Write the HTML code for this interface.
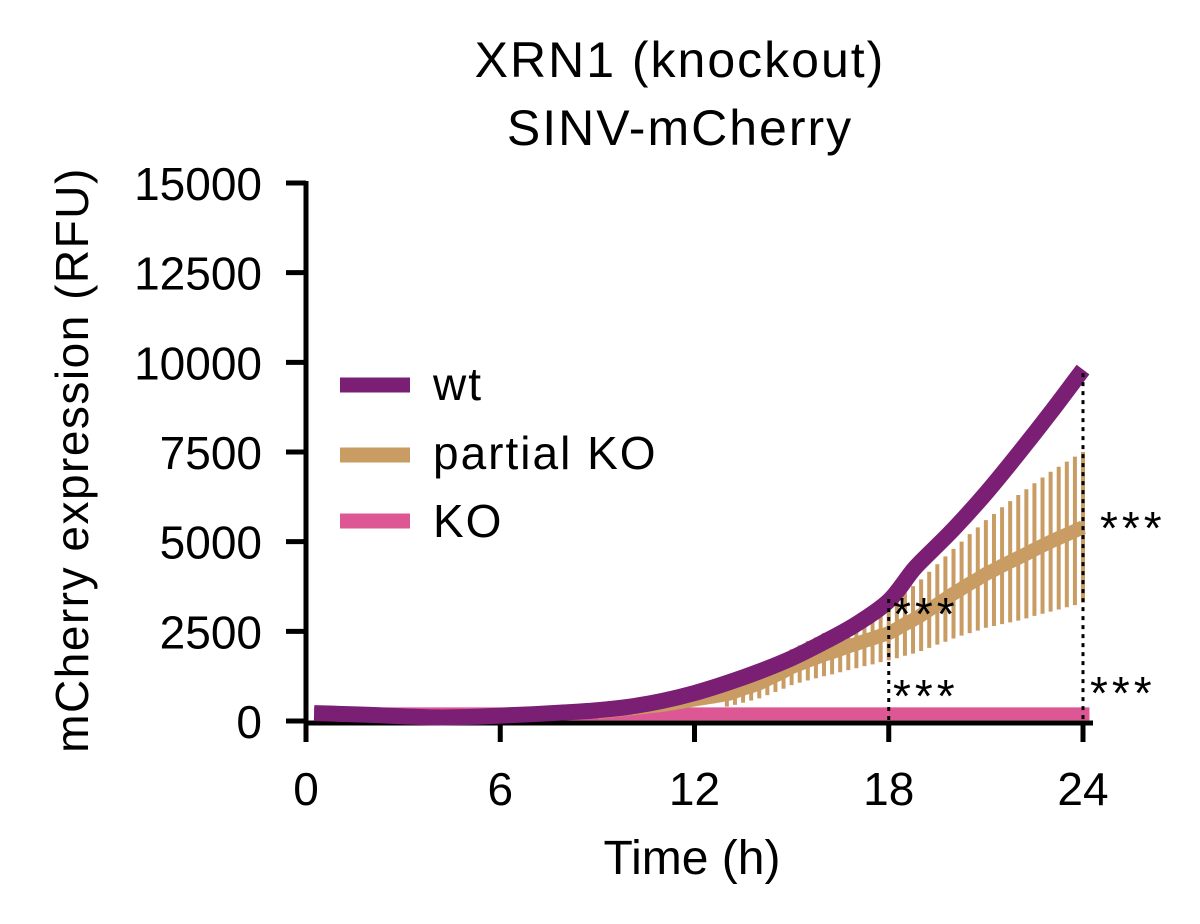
<!DOCTYPE html>
<html><head><meta charset="utf-8"><style>
body{margin:0;background:#fff}
svg text{font-family:"Liberation Sans",sans-serif;fill:#000}
</style></head><body>
<svg width="1200" height="919" viewBox="0 0 1200 919" xmlns="http://www.w3.org/2000/svg" id="chart">
<g>
<text x="680" y="77" font-size="50" letter-spacing="2" text-anchor="middle">XRN1 (knockout)</text>
<text x="680" y="145" font-size="50" letter-spacing="2" text-anchor="middle">SINV-mCherry</text>
</g>
<text x="0" y="0" font-size="46" letter-spacing="1.5" text-anchor="middle" transform="translate(88 460) rotate(-90)">mCherry expression (RFU)</text>
<text x="692" y="874" font-size="48" text-anchor="middle">Time (h)</text>
<g id="axes"></g>
<g id="series"></g>
<g>
<line x1="340" y1="385" x2="410" y2="385" stroke="#7a1f73" stroke-width="15"/>
<text x="433" y="400" font-size="46" letter-spacing="2">wt</text>
<line x1="340" y1="455" x2="410" y2="455" stroke="#c99c64" stroke-width="15"/>
<text x="433" y="469" font-size="46" letter-spacing="2">partial KO</text>
<line x1="340" y1="521" x2="410" y2="521" stroke="#de5795" stroke-width="15"/>
<text x="433" y="537" font-size="46" letter-spacing="2">KO</text>
</g>
</svg>
<script>
const xTicks=[0,6,12,18,24];
const yTicks=[0,2500,5000,7500,10000,12500,15000];
const wtTime=[0.25,1,2,3,4,5,6,7,8,9,10,11,12,13,14,15,16,17,18,18.7,19,20,21,22,23,24];
const wtValues=[220,200,170,130,100,110,150,190,240,300,400,560,780,1060,1380,1750,2200,2700,3350,4150,4450,5350,6350,7450,8600,9800];
const pkoTime=[9,10,11,12,13,13.25,13.5,13.75,14,14.25,14.5,14.75,15,15.25,15.5,15.75,16,16.25,16.5,16.75,17,17.25,17.5,17.75,18,18.25,18.5,18.75,19,19.25,19.5,19.75,20,20.25,20.5,20.75,21,21.25,21.5,21.75,22,22.25,22.5,22.75,23,23.25,23.5,23.75,24];
const pkoValues=[250,350,450,600,750,820,900,970,1050,1160,1270,1380,1500,1590,1680,1760,1850,1920,2000,2080,2150,2230,2300,2380,2450,2570,2700,2820,2950,3100,3250,3400,3550,3690,3830,3960,4100,4210,4330,4440,4550,4660,4780,4890,5000,5100,5200,5300,5400];
const pkoErr=[0,0,0,0,350,370,390,400,420,440,460,480,500,520,550,570,600,620,640,660,680,700,720,740,760,820,880,940,1000,1060,1120,1190,1250,1310,1380,1440,1500,1560,1630,1690,1750,1800,1850,1900,1950,1990,2030,2070,2100];
const koTime=[0.25,24.2];
const koValues=[200,200];
const sigTime=[18,24];
const sigLabels=["***","***","***","***"];

const NS="http://www.w3.org/2000/svg";
const X=t=>306+t*(1083-306)/24;
const Y=v=>721-v*(721-183)/15000;
function mk(tag,attrs,parent){const e=document.createElementNS(NS,tag);for(const k in attrs)e.setAttribute(k,attrs[k]);parent.appendChild(e);return e;}
function smooth(ts,vs){const P=ts.map((t,i)=>[X(t),Y(vs[i])]);let d='M'+P[0][0]+' '+P[0][1];
 for(let i=0;i<P.length-1;i++){const p0=P[Math.max(0,i-1)],p1=P[i],p2=P[i+1],p3=P[Math.min(P.length-1,i+2)];
  d+=` C${p1[0]+(p2[0]-p0[0])/6} ${p1[1]+(p2[1]-p0[1])/6} ${p2[0]-(p3[0]-p1[0])/6} ${p2[1]-(p3[1]-p1[1])/6} ${p2[0]} ${p2[1]}`;}
 return d;}
const axes=document.getElementById('axes'),ser=document.getElementById('series');
let a=mk('line',{x1:306,y1:181,x2:306,y2:724,stroke:'#000','stroke-width':5},axes);


a=mk('line',{x1:304,y1:723,x2:1093,y2:723,stroke:'#000','stroke-width':5},axes);


yTicks.forEach(v=>{
 const l=mk('line',{x1:286,y1:Y(v),x2:306,y2:Y(v),stroke:'#000','stroke-width':5},axes);
 
 
 const t=mk('text',{x:262,y:Y(v)+17,'font-size':46,'text-anchor':'end'},axes);
 t.textContent=v;
 
 
});
xTicks.forEach(v=>{
 const l=mk('line',{x1:X(v),y1:721,x2:X(v),y2:742,stroke:'#000','stroke-width':5},axes);
 
 
 const t=mk('text',{x:X(v),y:805,'font-size':46,'text-anchor':'middle'},axes);
 t.textContent=v;
 
 
});
let p=mk('path',{d:koTime.map((t,i)=>(i?'L':'M')+X(t)+' '+Y(koValues[i])).join(''),stroke:'#de5795','stroke-width':13,fill:'none'},ser);


pkoTime.forEach((t,i)=>{if(!pkoErr[i])return;
 const l=mk('line',{x1:X(t),x2:X(t),y1:Y(pkoValues[i]-pkoErr[i]),y2:Y(pkoValues[i]+pkoErr[i]),stroke:'#c99c64','stroke-width':4},ser);
 
 
});
p=mk('path',{d:smooth(pkoTime,pkoValues),stroke:'#c99c64','stroke-width':14,fill:'none','stroke-linejoin':'round'},ser);


p=mk('path',{d:smooth(wtTime,wtValues),stroke:'#7a1f73','stroke-width':16,fill:'none','stroke-linejoin':'round'},ser);


const tops=[3400,9700];
sigTime.forEach((t,i)=>{
 const l=mk('line',{x1:X(t),x2:X(t),y1:Y(tops[i]),y2:721,stroke:'#000','stroke-width':3,'stroke-dasharray':'4 5'},ser);
 
 
});
const sigPos=[[893,630],[893,712],[1100,544],[1090,709]];
sigPos.forEach((s,i)=>{
 const t=mk('text',{x:s[0],y:s[1],'font-size':46,'letter-spacing':'4'},ser);
 t.textContent=sigLabels[i];
 
 
});
</script>
</body></html>
